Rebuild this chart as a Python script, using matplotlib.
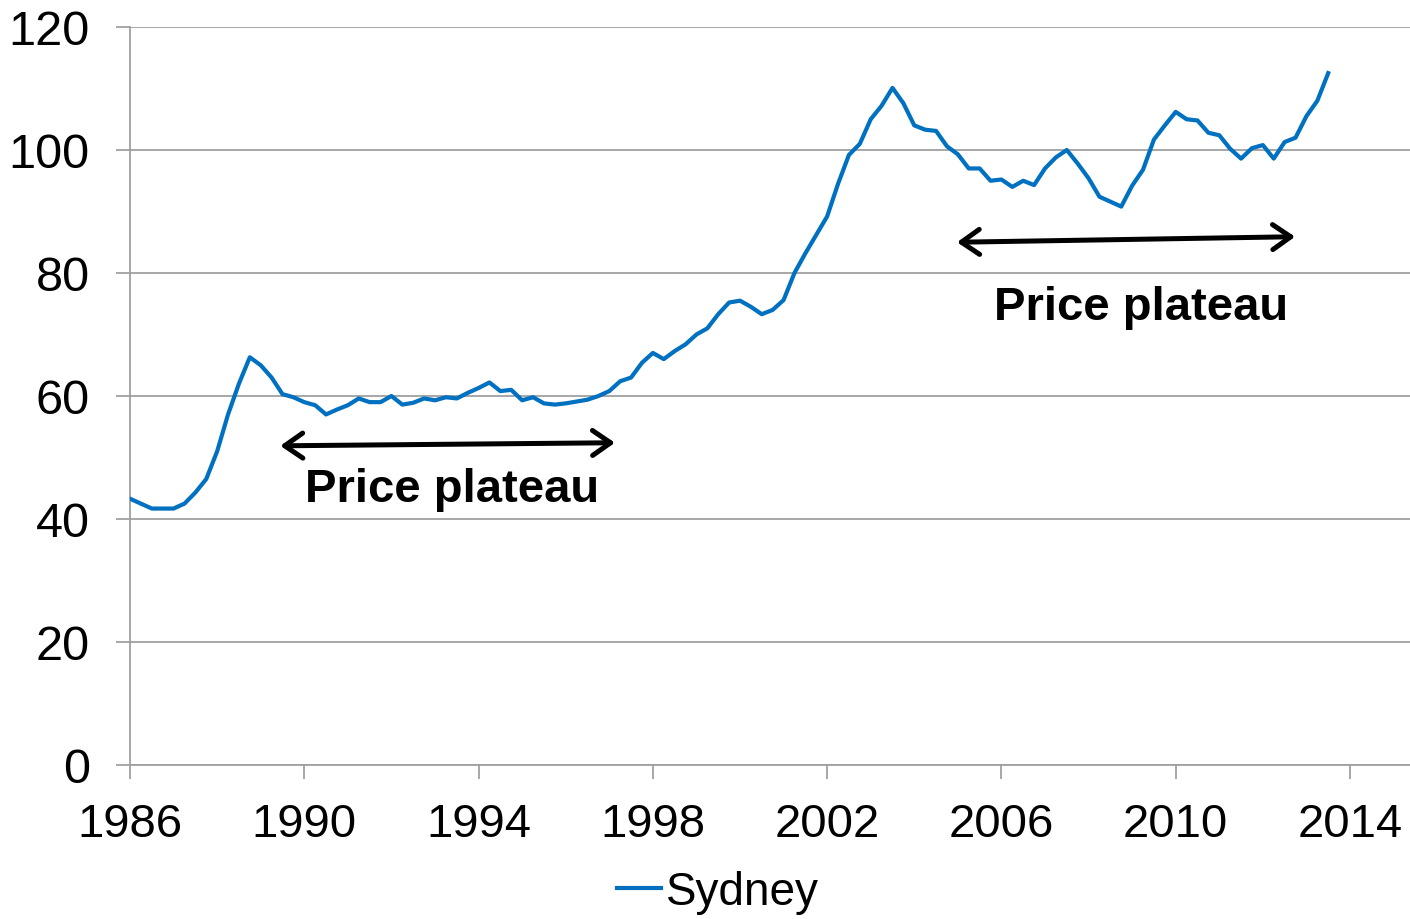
import matplotlib
matplotlib.use("Agg")
import matplotlib.pyplot as plt
import numpy as np

plt.rcParams['font.family'] = ['Liberation Sans', 'DejaVu Sans']

start_year = 1986.0
sydney = [43.3, 42.5, 41.7, 41.7, 41.7, 42.5, 44.3, 46.5, 51.0, 57.0,
          62.0, 66.3, 65.0, 63.0, 60.3, 59.8, 59.0, 58.5, 57.0, 57.8,
          58.5, 59.6, 59.0, 59.0, 60.0, 58.6, 58.9, 59.6, 59.3, 59.8,
          59.6, 60.5, 61.3, 62.2, 60.8, 61.0, 59.3, 59.8, 58.8, 58.6,
          58.8, 59.1, 59.4, 60.0, 60.8, 62.4, 63.0, 65.4, 67.0, 66.0,
          67.3, 68.4, 70.0, 71.0, 73.3, 75.2, 75.5, 74.5, 73.3, 74.0,
          75.6, 80.0, 83.2, 86.2, 89.2, 94.5, 99.2, 101.0, 105.0, 107.2,
          110.1, 107.6, 104.0, 103.3, 103.1, 100.6, 99.3, 97.0, 97.0, 95.0,
          95.2, 94.0, 95.0, 94.3, 97.0, 98.8, 100.0, 97.8, 95.4, 92.4,
          91.6, 90.8, 94.2, 96.8, 101.7, 104.0, 106.2, 105.0, 104.8, 102.8,
          102.4, 100.2, 98.6, 100.3, 100.8, 98.6, 101.3, 102.0, 105.5, 108.0,
          112.5]
years = start_year + np.arange(len(sydney)) / 4.0

x_ticks = [1986, 1990, 1994, 1998, 2002, 2006, 2010, 2014]
y_ticks = [0, 20, 40, 60, 80, 100, 120]

plateaus = [((1989.45, 51.9), (1997.13, 52.4), (1993.4, 44.9)),
            ((2004.98, 85.0), (2012.74, 85.9), (2009.2, 74.4))]
plateau_label = "Price plateau"

fig = plt.figure(figsize=(14.1, 9.2), dpi=100)
ax = fig.add_axes([130/1410, 1 - 766/920, 1 - 130/1410, (766 - 28)/920])

grid_color = '#a0a0a0'
ax.plot(years, sydney, color='#0070C0', lw=3.0, label='Sydney',
        solid_joinstyle='round', zorder=3)

ax.set_xlim(1986, 1986 + (1410 - 130) / (1220 / 28))
ax.set_ylim(0, 120)
ax.set_xticks(x_ticks)
ax.set_yticks(y_ticks)
ax.set_xticklabels([str(t) for t in x_ticks])
ax.set_yticklabels([str(t) for t in y_ticks])
ax.tick_params(axis='both', labelsize=34, color=grid_color, width=1.3,
               length=10, direction='out')
ax.tick_params(axis='y', labelsize=35, pad=19)
ax.tick_params(axis='x', pad=17)
ax.yaxis.grid(True, color=grid_color, lw=1.3)
ax.set_axisbelow(True)
for s in ['top', 'right']:
    ax.spines[s].set_visible(False)
for s in ['left', 'bottom']:
    ax.spines[s].set_color(grid_color)
    ax.spines[s].set_linewidth(1.3)
ax.spines['bottom'].set_zorder(2)

for (p0, p1, tp) in plateaus:
    ax.annotate('', xy=p1, xytext=p0,
                arrowprops=dict(arrowstyle='<->,head_length=1.3,head_width=0.9',
                                color='black', lw=3.6, shrinkA=0, shrinkB=0),
                zorder=4)
    ax.text(tp[0], tp[1], plateau_label, fontsize=34, fontweight='bold',
            ha='center', va='center', zorder=4)

fig.legend(loc='center', bbox_to_anchor=(718/1410, 1 - 893/920), frameon=False,
           fontsize=33, handlelength=0.95, handletextpad=0.1,
           borderaxespad=0, borderpad=0)

fig.savefig('out.png', dpi=100)
